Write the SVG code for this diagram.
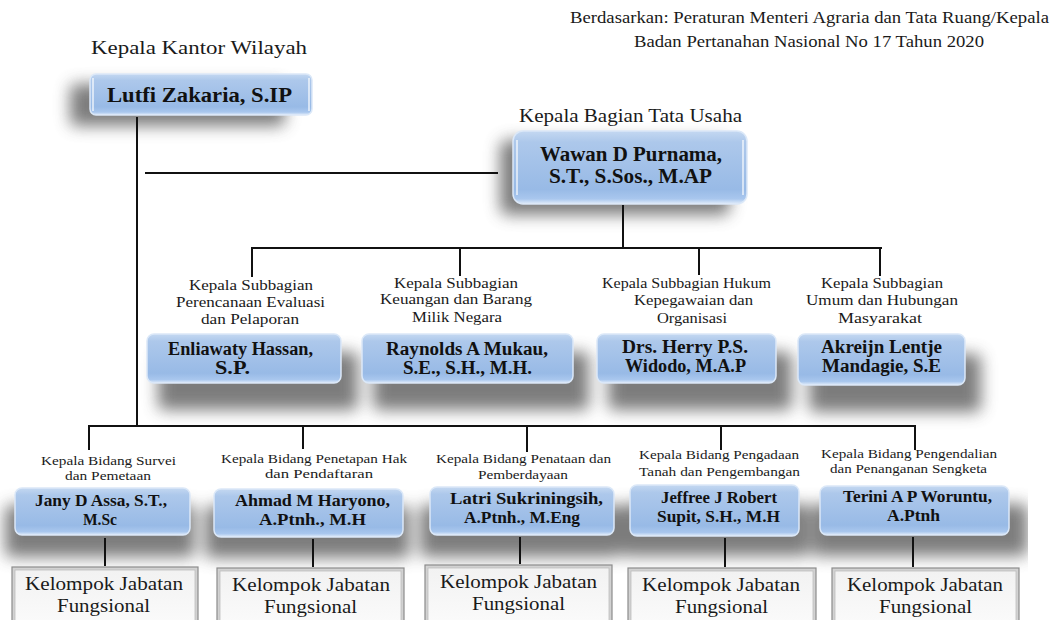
<svg xmlns="http://www.w3.org/2000/svg" width="1055" height="620" viewBox="0 0 1055 620">
<style>
.lbl{font-family:"Liberation Serif","Times New Roman",serif;fill:#1a1a1a}
.nm{font-family:"Liberation Serif","Times New Roman",serif;font-weight:bold;fill:#111}
.conn line{stroke:#111;stroke-width:2}
.bbox{fill:url(#blueGrad);stroke:#dbe8f8;stroke-width:1.5}
.kjo{fill:#d2d2d2;stroke:#8c8c8c;stroke-width:1.2}
.kji{fill:url(#kjGrad);stroke:#bdbdbd;stroke-width:0.8}
.sh{fill:#666666}
</style>
<defs>
<linearGradient id="blueGrad" x1="0" y1="0" x2="0" y2="1">
<stop offset="0" stop-color="#c4d8f1"/>
<stop offset="0.15" stop-color="#adc8eb"/>
<stop offset="0.8" stop-color="#98bae6"/>
<stop offset="0.93" stop-color="#a9c7ee"/>
<stop offset="1" stop-color="#e2edfa"/>
</linearGradient>
<linearGradient id="kjGrad" x1="0" y1="0" x2="0" y2="1">
<stop offset="0" stop-color="#f2f2f2"/>
<stop offset="1" stop-color="#fbfbfb"/>
</linearGradient>
<filter id="blur" x="-20%" y="-40%" width="140%" height="180%">
<feGaussianBlur stdDeviation="8"/>
</filter>
<clipPath id="clipR"><rect x="0" y="0" width="1028" height="620"/></clipPath>
</defs>
<rect width="1055" height="620" fill="#ffffff"/>

<g id="shadows" clip-path="url(#clipR)">
<g filter="url(#blur)" opacity="0.85">
<rect class="sh" x="70" y="84" width="215" height="42" rx="6"/>
<rect class="sh" x="500" y="140" width="230" height="75" rx="8"/>
<rect class="sh" x="158" y="352" width="200" height="58" rx="6"/>
<rect class="sh" x="373" y="352" width="216" height="58" rx="6"/>
<rect class="sh" x="608" y="352" width="184" height="58" rx="6"/>
<rect class="sh" x="809" y="354" width="172" height="58" rx="6"/>
<rect class="sh" x="5" y="505" width="190" height="52" rx="6"/>
<rect class="sh" x="205" y="506" width="205" height="52" rx="6"/>
<rect class="sh" x="420" y="505" width="200" height="52" rx="6"/>
<rect class="sh" x="620" y="504" width="190" height="52" rx="6"/>
<rect class="sh" x="812" y="504" width="216" height="52" rx="6"/>
</g>
</g>

<g id="header">
<text class="lbl" x="570" y="23" font-size="16" textLength="479" lengthAdjust="spacingAndGlyphs">Berdasarkan: Peraturan Menteri Agraria dan Tata Ruang/Kepala</text>
<text class="lbl" x="634" y="47" font-size="16" textLength="350" lengthAdjust="spacingAndGlyphs">Badan Pertanahan Nasional No 17 Tahun 2020</text>
</g>

<g id="connectors" class="conn">
<line x1="137" y1="117" x2="137" y2="427"/>
<line x1="145" y1="173" x2="498" y2="173"/>
<line x1="623" y1="205" x2="623" y2="249"/>
<line x1="251" y1="248" x2="882" y2="248"/>
<line x1="252" y1="248" x2="252" y2="277"/>
<line x1="460" y1="248" x2="460" y2="276"/>
<line x1="699" y1="248" x2="699" y2="275"/>
<line x1="880" y1="248" x2="880" y2="276"/>
<line x1="88" y1="426" x2="916" y2="426"/>
<line x1="89" y1="426" x2="89" y2="450"/>
<line x1="303" y1="426" x2="303" y2="449"/>
<line x1="527" y1="426" x2="527" y2="452"/>
<line x1="721" y1="426" x2="721" y2="450"/>
<line x1="915" y1="426" x2="915" y2="450"/>
<line x1="105" y1="538" x2="105" y2="566"/>
<line x1="313" y1="539" x2="313" y2="567"/>
<line x1="520" y1="537" x2="520" y2="564"/>
<line x1="725" y1="538" x2="725" y2="567"/>
<line x1="913" y1="537" x2="913" y2="567"/>
</g>

<g id="kepala-kantor">
<text class="lbl" x="91" y="54" font-size="18" textLength="216" lengthAdjust="spacingAndGlyphs">Kepala Kantor Wilayah</text>
<rect class="bbox" x="90" y="74" width="222" height="41" rx="6"/>
<line x1="93" y1="78" x2="93" y2="111" stroke="#ffffff" stroke-width="1.5" opacity="0.8"/>
<line x1="309" y1="78" x2="309" y2="111" stroke="#ffffff" stroke-width="1.5" opacity="0.8"/>
<text class="nm" x="107" y="102" font-size="20" textLength="185" lengthAdjust="spacingAndGlyphs">Lutfi Zakaria, S.IP</text>
</g>

<g id="kepala-bagian">
<text class="lbl" x="519" y="122" font-size="18" textLength="223" lengthAdjust="spacingAndGlyphs">Kepala Bagian Tata Usaha</text>
<rect class="bbox" x="513" y="131" width="234" height="73" rx="10"/>
<line x1="517" y1="140" x2="517" y2="195" stroke="#ffffff" stroke-width="1.5" opacity="0.8"/>
<line x1="743" y1="140" x2="743" y2="195" stroke="#ffffff" stroke-width="1.5" opacity="0.8"/>
<text class="nm" x="540" y="161" font-size="20" textLength="182" lengthAdjust="spacingAndGlyphs">Wawan D Purnama,</text>
<text class="nm" x="549" y="183" font-size="20" textLength="163" lengthAdjust="spacingAndGlyphs">S.T., S.Sos., M.AP</text>
</g>

<g id="subbag-perencanaan">
<text class="lbl" x="189" y="290" font-size="15" textLength="124" lengthAdjust="spacingAndGlyphs">Kepala Subbagian</text>
<text class="lbl" x="176" y="307" font-size="15" textLength="149" lengthAdjust="spacingAndGlyphs">Perencanaan Evaluasi</text>
<text class="lbl" x="201" y="324" font-size="15" textLength="98" lengthAdjust="spacingAndGlyphs">dan Pelaporan</text>
<rect class="bbox" x="147" y="334" width="194" height="49" rx="7"/>
<text class="nm" x="168" y="355" font-size="18" textLength="145" lengthAdjust="spacingAndGlyphs">Enliawaty Hassan,</text>
<text class="nm" x="215" y="374" font-size="18" textLength="35" lengthAdjust="spacingAndGlyphs">S.P.</text>
</g>

<g id="subbag-keuangan">
<text class="lbl" x="394" y="288" font-size="15" textLength="124" lengthAdjust="spacingAndGlyphs">Kepala Subbagian</text>
<text class="lbl" x="380" y="304" font-size="15" textLength="152" lengthAdjust="spacingAndGlyphs">Keuangan dan Barang</text>
<text class="lbl" x="412" y="322" font-size="15" textLength="90" lengthAdjust="spacingAndGlyphs">Milik Negara</text>
<rect class="bbox" x="362" y="334" width="211" height="49" rx="7"/>
<text class="nm" x="386" y="355" font-size="18" textLength="162" lengthAdjust="spacingAndGlyphs">Raynolds A Mukau,</text>
<text class="nm" x="403" y="374" font-size="18" textLength="129" lengthAdjust="spacingAndGlyphs">S.E., S.H., M.H.</text>
</g>

<g id="subbag-hukum">
<text class="lbl" x="602" y="288" font-size="15" textLength="169" lengthAdjust="spacingAndGlyphs">Kepala Subbagian Hukum</text>
<text class="lbl" x="634" y="305" font-size="15" textLength="119" lengthAdjust="spacingAndGlyphs">Kepegawaian dan</text>
<text class="lbl" x="657" y="323" font-size="15" textLength="70" lengthAdjust="spacingAndGlyphs">Organisasi</text>
<rect class="bbox" x="597" y="334" width="179" height="49" rx="7"/>
<text class="nm" x="622" y="353" font-size="18" textLength="126" lengthAdjust="spacingAndGlyphs">Drs. Herry P.S.</text>
<text class="nm" x="625" y="372" font-size="18" textLength="121" lengthAdjust="spacingAndGlyphs">Widodo, M.A.P</text>
</g>

<g id="subbag-umum">
<text class="lbl" x="821" y="288" font-size="15" textLength="122" lengthAdjust="spacingAndGlyphs">Kepala Subbagian</text>
<text class="lbl" x="806" y="305" font-size="15" textLength="152" lengthAdjust="spacingAndGlyphs">Umum dan Hubungan</text>
<text class="lbl" x="838" y="323" font-size="15" textLength="84" lengthAdjust="spacingAndGlyphs">Masyarakat</text>
<rect class="bbox" x="798" y="334" width="167" height="51" rx="7"/>
<text class="nm" x="821" y="353" font-size="18" textLength="121" lengthAdjust="spacingAndGlyphs">Akreijn Lentje</text>
<text class="nm" x="822" y="372" font-size="18" textLength="119" lengthAdjust="spacingAndGlyphs">Mandagie, S.E</text>
</g>

<g id="bidang-survei">
<text class="lbl" x="41" y="465" font-size="13" textLength="135" lengthAdjust="spacingAndGlyphs">Kepala Bidang Survei</text>
<text class="lbl" x="65" y="480" font-size="13" textLength="86" lengthAdjust="spacingAndGlyphs">dan Pemetaan</text>
<rect class="bbox" x="15" y="488" width="175" height="47" rx="7"/>
<text class="nm" x="35" y="506" font-size="16" textLength="132" lengthAdjust="spacingAndGlyphs">Jany D Assa, S.T.,</text>
<text class="nm" x="83" y="525" font-size="16" textLength="34" lengthAdjust="spacingAndGlyphs">M.Sc</text>
</g>

<g id="bidang-penetapan">
<text class="lbl" x="221" y="463" font-size="13" textLength="186" lengthAdjust="spacingAndGlyphs">Kepala Bidang Penetapan Hak</text>
<text class="lbl" x="265" y="478" font-size="13" textLength="108" lengthAdjust="spacingAndGlyphs">dan Pendaftaran</text>
<rect class="bbox" x="214" y="489" width="189" height="48" rx="7"/>
<text class="nm" x="235" y="506" font-size="16" textLength="155" lengthAdjust="spacingAndGlyphs">Ahmad M Haryono,</text>
<text class="nm" x="259" y="525" font-size="16" textLength="107" lengthAdjust="spacingAndGlyphs">A.Ptnh., M.H</text>
</g>

<g id="bidang-penataan">
<text class="lbl" x="436" y="463" font-size="13" textLength="175" lengthAdjust="spacingAndGlyphs">Kepala Bidang Penataan dan</text>
<text class="lbl" x="478" y="479" font-size="13" textLength="90" lengthAdjust="spacingAndGlyphs">Pemberdayaan</text>
<rect class="bbox" x="430" y="487" width="184" height="48" rx="7"/>
<text class="nm" x="450" y="504" font-size="16" textLength="153" lengthAdjust="spacingAndGlyphs">Latri Sukriningsih,</text>
<text class="nm" x="464" y="523" font-size="16" textLength="116" lengthAdjust="spacingAndGlyphs">A.Ptnh., M.Eng</text>
</g>

<g id="bidang-pengadaan">
<text class="lbl" x="639" y="459" font-size="13" textLength="160" lengthAdjust="spacingAndGlyphs">Kepala Bidang Pengadaan</text>
<text class="lbl" x="639" y="476" font-size="13" textLength="161" lengthAdjust="spacingAndGlyphs">Tanah dan Pengembangan</text>
<rect class="bbox" x="630" y="485" width="169" height="51" rx="7"/>
<text class="nm" x="661" y="503" font-size="16" textLength="116" lengthAdjust="spacingAndGlyphs">Jeffree J Robert</text>
<text class="nm" x="657" y="522" font-size="16" textLength="123" lengthAdjust="spacingAndGlyphs">Supit, S.H., M.H</text>
</g>

<g id="bidang-pengendalian">
<text class="lbl" x="821" y="458" font-size="13" textLength="176" lengthAdjust="spacingAndGlyphs">Kepala Bidang Pengendalian</text>
<text class="lbl" x="830" y="473" font-size="13" textLength="157" lengthAdjust="spacingAndGlyphs">dan Penanganan Sengketa</text>
<rect class="bbox" x="820" y="486" width="189" height="49" rx="7"/>
<text class="nm" x="843" y="502" font-size="16" textLength="149" lengthAdjust="spacingAndGlyphs">Terini A P Woruntu,</text>
<text class="nm" x="887" y="521" font-size="16" textLength="53" lengthAdjust="spacingAndGlyphs">A.Ptnh</text>
</g>

<g id="kjf-1">
<rect class="kjo" x="12" y="567" width="186" height="60"/>
<rect class="kji" x="15" y="570" width="180" height="57"/>
<text class="lbl" x="25" y="590" font-size="18" textLength="158" lengthAdjust="spacingAndGlyphs">Kelompok Jabatan</text>
<text class="lbl" x="57" y="612" font-size="18" textLength="93" lengthAdjust="spacingAndGlyphs">Fungsional</text>
</g>
<g id="kjf-2">
<rect class="kjo" x="217" y="568" width="187" height="60"/>
<rect class="kji" x="220" y="571" width="181" height="57"/>
<text class="lbl" x="232" y="591" font-size="18" textLength="158" lengthAdjust="spacingAndGlyphs">Kelompok Jabatan</text>
<text class="lbl" x="264" y="613" font-size="18" textLength="93" lengthAdjust="spacingAndGlyphs">Fungsional</text>
</g>
<g id="kjf-3">
<rect class="kjo" x="425" y="565" width="187" height="62"/>
<rect class="kji" x="428" y="568" width="181" height="59"/>
<text class="lbl" x="440" y="588" font-size="18" textLength="157" lengthAdjust="spacingAndGlyphs">Kelompok Jabatan</text>
<text class="lbl" x="472" y="610" font-size="18" textLength="93" lengthAdjust="spacingAndGlyphs">Fungsional</text>
</g>
<g id="kjf-4">
<rect class="kjo" x="628" y="568" width="188" height="60"/>
<rect class="kji" x="631" y="571" width="182" height="57"/>
<text class="lbl" x="642" y="591" font-size="18" textLength="158" lengthAdjust="spacingAndGlyphs">Kelompok Jabatan</text>
<text class="lbl" x="675" y="613" font-size="18" textLength="93" lengthAdjust="spacingAndGlyphs">Fungsional</text>
</g>
<g id="kjf-5">
<rect class="kjo" x="832" y="568" width="187" height="60"/>
<rect class="kji" x="835" y="571" width="181" height="57"/>
<text class="lbl" x="847" y="591" font-size="18" textLength="156" lengthAdjust="spacingAndGlyphs">Kelompok Jabatan</text>
<text class="lbl" x="879" y="613" font-size="18" textLength="93" lengthAdjust="spacingAndGlyphs">Fungsional</text>
</g>
</svg>
